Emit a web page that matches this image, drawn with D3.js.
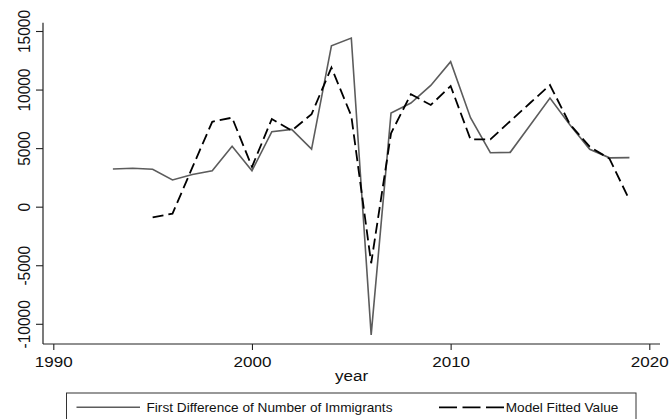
<!DOCTYPE html>
<html>
<head>
<meta charset="utf-8">
<script src="https://cdn.jsdelivr.net/npm/d3@7"></script>
<style>
  html, body { margin: 0; padding: 0; background: #fff; }
  svg { display: block; }
  text { font-family: "Liberation Sans", Arial, sans-serif; fill: #111; }
</style>
</head>
<body>
<svg id="chart" width="670" height="419"></svg>
<script>
// ---- data ----
const diffYears = [1993,1994,1995,1996,1997,1998,1999,2000,2001,2002,2003,2004,2005,2006,2007,2008,2009,2010,2011,2012,2013,2014,2015,2016,2017,2018,2019];
const diffValues = [3220,3280,3190,2280,2750,3070,5150,3070,6400,6600,4920,13730,14400,-10950,8000,8850,10350,12380,7600,4610,4640,6950,9270,7000,4900,4170,4190];
const fitYears = [1995,1996,1997,1998,1999,2000,2001,2002,2003,2004,2005,2006,2007,2008,2009,2010,2011,2012,2013,2014,2015,2016,2017,2018,2019];
const fitValues = [-920,-600,3350,7250,7600,3400,7490,6490,7900,11880,7750,-4830,6270,9600,8680,10300,5750,5750,7300,8850,10390,7050,5120,4090,570];
const xTicks = [1990, 2000, 2010, 2020];
const yTicks = [-10000, -5000, 0, 5000, 10000, 15000];
const seriesNames = ["First Difference of Number of Immigrants", "Model Fitted Value"];
const xTitle = "year";

// ---- layout ----
const svg = d3.select("#chart");
const axisLeftX = 43, axisBottomY = 344, axisTopY = 22.7, axisRightX = 660;

const x = d3.scaleLinear().domain([1990, 2020]).range([53.3, 649.3]);
const y = d3.scaleLinear().domain([-10000, 15000]).range([323.8, 31]);

// axis lines
svg.append("line").attr("x1", axisLeftX).attr("x2", axisLeftX)
  .attr("y1", axisTopY).attr("y2", axisBottomY)
  .attr("stroke", "#222").attr("stroke-width", 1.2);
svg.append("line").attr("x1", axisLeftX).attr("x2", axisRightX)
  .attr("y1", axisBottomY).attr("y2", axisBottomY)
  .attr("stroke", "#222").attr("stroke-width", 1.2);

// y axis
const gy = svg.append("g").attr("transform", `translate(${axisLeftX},0)`)
  .call(d3.axisLeft(y).tickValues(yTicks).tickSize(7).tickFormat(d => String(d)));
gy.select(".domain").remove();
gy.selectAll(".tick line").attr("stroke", "#222").attr("stroke-width", 1.1);
gy.selectAll(".tick text")
  .attr("x", 0).attr("y", 0).attr("dy", 0)
  .attr("text-anchor", "middle")
  .attr("transform", "translate(-13.5,0) scale(1.1,1) rotate(-90)")
  .style("font-size", "15.5px")
  .style("font-family", '"Liberation Sans", Arial, sans-serif')
  .attr("fill", "#111");

// x axis
const gx = svg.append("g").attr("transform", `translate(0,${axisBottomY})`)
  .call(d3.axisBottom(x).tickValues(xTicks).tickSize(6).tickFormat(d => String(d)));
gx.select(".domain").remove();
gx.selectAll(".tick line").attr("stroke", "#222").attr("stroke-width", 1.1);
gx.selectAll(".tick text")
  .attr("x", 0).attr("y", 0).attr("dy", 0)
  .attr("text-anchor", "middle")
  .attr("transform", "translate(0,23) scale(1.1,1)")
  .style("font-size", "15.5px")
  .style("font-family", '"Liberation Sans", Arial, sans-serif')
  .attr("fill", "#111");

// x title
svg.append("text")
  .attr("transform", `translate(${(axisLeftX + axisRightX) / 2},381) scale(1.1,1)`)
  .attr("text-anchor", "middle")
  .style("font-size", "15.5px")
  .text(xTitle);

// lines
const line = d3.line().x(d => x(d[0])).y(d => y(d[1]));
svg.append("path")
  .datum(diffYears.map((yr, i) => [yr, diffValues[i]]))
  .attr("d", line)
  .attr("fill", "none").attr("stroke", "#5c5c5c").attr("stroke-width", 1.6)
  .attr("stroke-linejoin", "miter");
svg.append("path")
  .datum(fitYears.map((yr, i) => [yr, fitValues[i]]))
  .attr("d", line)
  .attr("fill", "none").attr("stroke", "#000").attr("stroke-width", 1.8)
  .attr("stroke-dasharray", "11,5");

// legend
const lg = svg.append("g");
lg.append("rect").attr("x", 66.5).attr("y", 393).attr("width", 569.5).attr("height", 40)
  .attr("fill", "#fff").attr("stroke", "#333").attr("stroke-width", 1);
lg.append("line").attr("x1", 76.5).attr("x2", 140).attr("y1", 407.3).attr("y2", 407.3)
  .attr("stroke", "#5c5c5c").attr("stroke-width", 1.6);
lg.append("text").attr("transform", "translate(146.5,412) scale(1.05,1)")
  .style("font-size", "13px").text(seriesNames[0]);
lg.append("line").attr("x1", 439).attr("x2", 504).attr("y1", 407.3).attr("y2", 407.3)
  .attr("stroke", "#000").attr("stroke-width", 1.8).attr("stroke-dasharray", "18,5.5");
lg.append("text").attr("transform", "translate(505.7,412) scale(1.05,1)")
  .style("font-size", "13px").text(seriesNames[1]);
</script>
</body>
</html>
